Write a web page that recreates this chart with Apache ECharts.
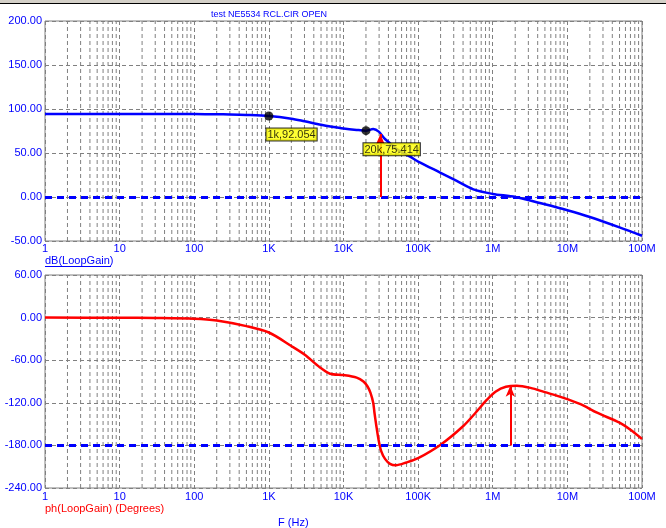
<!DOCTYPE html>
<html>
<head>
<meta charset="utf-8">
<script src="https://cdn.jsdelivr.net/npm/echarts@6/dist/echarts.min.js"></script>
<style>
  html, body { margin: 0; padding: 0; background: #fff; }
  #chart { width: 666px; height: 528px; }
</style>
</head>
<body>
<div id="chart"></div>
<script>
// x axis: decades 1 Hz .. 100 MHz
const decadeLabels = ['1', '10', '100', '1K', '10K', '100K', '1M', '10M', '100M'];
const minorMults = [2, 3, 4, 5, 6, 7, 8, 9];

// dB(LoopGain)
const magFreq = [1, 10, 100, 200, 300, 500, 1000, 2000, 3000, 5000, 7000, 10000, 15000, 20000,
  25000, 30000, 35000, 42000, 50000, 60000, 78000, 100000, 200000, 300000, 550000,
  1e6, 2e6, 5e6, 1e7, 2e7, 5e7, 1e8];
const magDb = [94.3, 94.3, 94.2, 94.0, 93.8, 93.3, 92.05, 89, 86, 82, 79.8, 77.8, 76.2, 75.4,
  77.2, 74, 67, 61, 55.5, 51, 45.8, 40.3, 27.5, 20, 8.7,
  3.5, 0, -8.3, -15, -22.7, -34.5, -44];

// ph(LoopGain) (Degrees)
const phFreq = [1, 10, 30, 100, 200, 500, 1000, 2000, 3000, 4800, 6600, 10000, 15000, 18500,
  21000, 23000, 25000, 26000, 27500, 29500, 32000, 36000, 42000, 50000, 70000, 100000,
  200000, 400000, 600000, 830000, 1.1e6, 1.5e6, 2.1e6, 3.2e6, 5e6, 8.9e6, 1.5e7, 2.5e7,
  5e7, 7e7, 1e8];
const phDeg = [0, -0.2, -0.5, -1.5, -4, -12, -21, -40, -52, -70, -79, -81, -84.5, -90,
  -97, -106, -120, -134, -152, -172, -188, -199, -206, -208, -204, -198,
  -179, -153, -133, -116, -104, -97.5, -96, -99, -105, -113, -122, -134,
  -148, -158, -171];

// cursor markers on the gain curve
const markerPts = [[1000, 92.054], [20000, 75.414]];
// arrows: [frequency, from, to]
const gainArrow = [31200, 0, 71.6];
const phaseArrow = [1.72e6, -180, -96];

const FONT = 'Liberation Sans';
const BLUE = '#0000ff';
const RED = '#ff0000';
const GRIDC = '#808080';

function minorGrid(ymin, ymax) {
  const out = [];
  for (let e = 0; e < 8; e++) {
    const d = Math.pow(10, e);
    minorMults.forEach(function (m) {
      out.push([d * m, ymin], [d * m, ymax], [d * m, '-']);
    });
  }
  return out;
}

function xAxis(gridIndex, margin) {
  return {
    type: 'log', logBase: 10, min: 1, max: 1e8, gridIndex: gridIndex,
    axisLine: { show: false }, axisTick: { show: false },
    axisLabel: {
      color: BLUE, fontFamily: FONT, fontSize: 11, margin: margin,
      formatter: function (v) { return decadeLabels[Math.round(Math.log10(v))]; }
    },
    splitLine: { show: true, lineStyle: { color: GRIDC, type: [4, 3], width: 1 } }
  };
}

function yAxis(gridIndex, min, max, interval) {
  return {
    type: 'value', gridIndex: gridIndex, min: min, max: max, interval: interval,
    axisLine: { show: false }, axisTick: { show: false },
    axisLabel: {
      color: BLUE, fontFamily: FONT, fontSize: 11, margin: 3,
      formatter: function (v) { return v.toFixed(2); }
    },
    splitLine: { show: true, lineStyle: { color: GRIDC, type: [4, 3], width: 1 } }
  };
}

function refLine(y) {
  return {
    silent: true, symbol: 'none', label: { show: false },
    lineStyle: { color: BLUE, type: [7, 5], width: 3 },
    data: [{ yAxis: y }]
  };
}

function arrowLine(a) {
  return {
    silent: true, label: { show: false },
    lineStyle: { color: RED, type: 'solid', width: 2 },
    itemStyle: { color: RED },
    data: [[
      { coord: [a[0], a[1]], symbol: 'none' },
      { coord: [a[0], a[2]], symbol: 'arrow', symbolSize: [7, 11] }
    ]]
  };
}

const chart = echarts.init(document.getElementById('chart'), null, { renderer: 'canvas' });

chart.setOption({
  animation: false,
  backgroundColor: '#ffffff',
  grid: [
    { left: 45, right: 24, top: 21, height: 220, show: true, borderColor: GRIDC, borderWidth: 1, backgroundColor: 'transparent' },
    { left: 45, right: 24, top: 275, height: 213, show: true, borderColor: GRIDC, borderWidth: 1, backgroundColor: 'transparent' }
  ],
  xAxis: [xAxis(0, 2), xAxis(1, 3)],
  yAxis: [yAxis(0, -50, 200, 50), yAxis(1, -240, 60, 60)],
  graphic: [
    { type: 'rect', left: 0, top: 0, shape: { width: 666, height: 3 }, style: { fill: '#d4d0c8' }, silent: true },
    { type: 'rect', left: 0, top: 3, shape: { width: 666, height: 1 }, style: { fill: '#000000' }, silent: true },
    { type: 'text', x: 269, y: 15, style: { text: 'test NE5534 RCL.CIR OPEN', fill: BLUE, font: '9px "' + FONT + '"', align: 'center', verticalAlign: 'middle' } },
    { type: 'text', x: 45, y: 261, style: { text: 'dB(LoopGain)', fill: BLUE, font: '11px "' + FONT + '"', align: 'left', verticalAlign: 'middle' } },
    { type: 'line', shape: { x1: 45, y1: 266.5, x2: 111, y2: 266.5 }, style: { stroke: BLUE, lineWidth: 1 } },
    { type: 'text', x: 45, y: 509, style: { text: 'ph(LoopGain) (Degrees)', fill: RED, font: '11px "' + FONT + '"', align: 'left', verticalAlign: 'middle' } },
    { type: 'text', x: 278, y: 523, style: { text: 'F (Hz)', fill: BLUE, font: '11px "' + FONT + '"', align: 'left', verticalAlign: 'middle' } }
  ],
  series: [
    {
      name: 'minor grid top', type: 'line', xAxisIndex: 0, yAxisIndex: 0, z: 1, silent: true,
      symbol: 'none', connectNulls: false,
      lineStyle: { color: GRIDC, type: [4, 3], width: 1 },
      data: minorGrid(-50, 200)
    },
    {
      name: 'minor grid bottom', type: 'line', xAxisIndex: 1, yAxisIndex: 1, z: 1, silent: true,
      symbol: 'none', connectNulls: false,
      lineStyle: { color: GRIDC, type: [4, 3], width: 1 },
      data: minorGrid(-240, 60)
    },
    {
      name: 'dB(LoopGain)', type: 'line', xAxisIndex: 0, yAxisIndex: 0, z: 3,
      symbol: 'none', smooth: 0.3,
      lineStyle: { color: BLUE, width: 2.5 },
      data: magFreq.map(function (f, i) { return [f, magDb[i]]; }),
      markLine: refLine(0)
    },
    {
      name: 'gain arrow', type: 'line', xAxisIndex: 0, yAxisIndex: 0, z: 4,
      symbol: 'none', data: [],
      markLine: arrowLine(gainArrow)
    },
    {
      name: 'cursors', type: 'scatter', xAxisIndex: 0, yAxisIndex: 0, z: 5,
      symbol: 'circle', symbolSize: 9,
      itemStyle: { color: '#000000' },
      label: {
        show: true, position: [2, 17], color: '#000', fontFamily: FONT, fontSize: 11,
        backgroundColor: '#ffff00', borderColor: '#000', borderWidth: 1, padding: [1, 1, 0, 1],
        formatter: function (p) { return (p.value[0] / 1000) + 'k,' + p.value[1].toFixed(3); }
      },
      data: markerPts
    },
    {
      name: 'ph(LoopGain)', type: 'line', xAxisIndex: 1, yAxisIndex: 1, z: 3,
      symbol: 'none', smooth: 0.3,
      lineStyle: { color: RED, width: 2.5 },
      data: phFreq.map(function (f, i) { return [f, phDeg[i]]; }),
      markLine: refLine(-180)
    },
    {
      name: 'phase arrow', type: 'line', xAxisIndex: 1, yAxisIndex: 1, z: 4,
      symbol: 'none', data: [],
      markLine: arrowLine(phaseArrow)
    }
  ]
});
</script>
</body>
</html>
